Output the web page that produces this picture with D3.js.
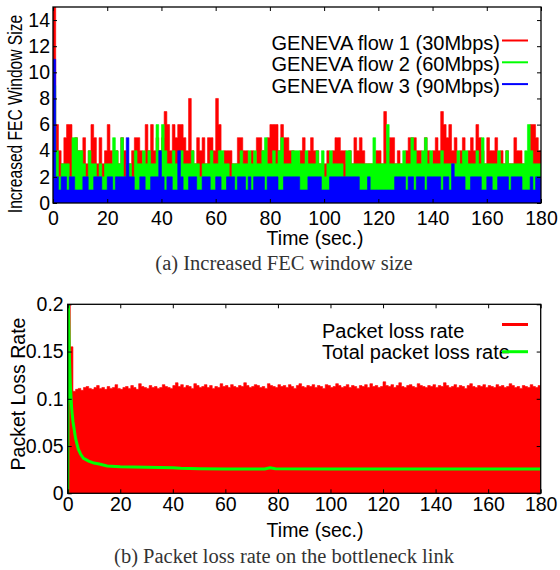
<!DOCTYPE html>
<html lang="en">
<head>
<meta charset="UTF-8">
<title>GENEVA - FEC window size and packet loss rate</title>
<script src="https://d3js.org/d3.v7.min.js"></script>
<style>
    body { margin: 0; background: #fff; }
    svg { display: block; font-family: "Liberation Sans", Arial, sans-serif; }
    .tick text { font-size: 19.5px; fill: #000; }
    .label { font-size: 19.5px; fill: #000; }
    .legend { font-size: 20px; fill: #000; }
    .caption { font-family: "Liberation Serif", "Times New Roman", serif; font-size: 20.5px; fill: #333; }
</style>
</head>
<body>
<div id="chart"></div>
<script>
    /*------------------------- data -------------------------*/
    // one sample per second, t = 0 .. 180
    const timeTicks = [0, 20, 40, 60, 80, 100, 120, 140, 160, 180];
    const fecTicks = [0, 2, 4, 6, 8, 10, 12, 14];
    const lossTicks = [0, 0.05, 0.1, 0.15, 0.2];
    const fecNames = ["GENEVA flow 1 (30Mbps)", "GENEVA flow 2 (60Mbps)", "GENEVA flow 3 (90Mbps)"];
    const lossNames = ["Packet loss rate", "Total packet loss rate"];

    // increased FEC window size, flow 1 (30Mbps)
    const flow1 = [
        15,6,4,3,5,6,6,3,5,4,4,5,3,4,6,5,3,5,3,4,6,4,3,4,3,5,4,3,3,4,5,5,4,3,6,4,6,
        4,5,4,5,7,6,4,6,5,6,6,5,4,8,4,3,5,4,5,3,5,5,4,8,6,3,4,4,4,3,3,5,5,4,4,3,
        4,3,5,5,4,3,5,6,6,6,4,6,5,5,4,4,3,3,4,5,3,4,5,4,4,3,3,3,4,3,4,5,5,4,4,3,
        4,3,5,4,5,4,3,3,3,3,4,4,3,7,4,5,5,3,4,3,3,4,5,5,5,4,4,3,5,4,3,4,5,4,7,6,
        5,6,4,5,3,4,5,3,4,5,4,6,5,4,3,5,4,4,5,3,4,3,4,3,3,5,4,4,3,3,3,6,6,5,4,4
    ];
    // flow 2 (60Mbps)
    const flow2 = [
        9,4,2,3,3,3,2,5,5,4,4,3,2,4,3,3,2,3,2,3,3,3,5,4,3,5,2,3,3,2,4,3,3,4,3,4,3,
        3,6,4,6,4,3,3,4,3,3,4,3,3,3,4,3,3,2,3,3,3,4,3,3,4,4,3,3,2,3,3,3,4,3,3,4,
        3,4,3,3,4,5,3,3,4,3,4,5,3,3,3,4,4,4,3,3,4,3,3,3,4,3,4,2,3,4,3,3,3,3,2,4,
        4,3,3,3,3,3,3,3,3,5,3,3,3,3,6,3,3,3,3,3,4,3,3,5,4,3,3,4,5,3,4,3,3,3,4,3,
        3,3,3,3,4,3,4,4,3,3,3,4,3,5,3,3,3,3,3,4,3,3,4,3,3,3,3,3,3,4,6,4,3,3,3,3
    ];
    // flow 3 (90Mbps)
    const flow3 = [
        11,2,1,2,2,1,2,2,1,1,1,2,2,1,1,2,2,2,1,1,2,2,1,2,2,2,2,5,2,2,1,1,2,2,1,1,2,
        2,2,4,2,1,2,2,1,1,4,2,1,1,2,2,2,1,1,2,2,2,1,1,2,2,1,1,2,2,2,1,2,2,2,1,2,
        1,2,2,2,2,1,2,2,2,2,1,1,2,2,2,2,2,2,1,1,1,2,2,2,2,2,1,1,1,2,2,2,2,2,2,2,
        2,2,2,2,1,1,1,2,1,1,1,1,1,1,1,1,1,2,2,2,2,1,2,2,1,2,2,2,1,2,2,2,2,2,1,2,
        2,1,3,2,2,2,2,1,1,2,2,2,2,1,1,2,2,1,1,2,2,2,2,1,2,2,2,2,1,1,1,2,1,2,2,2
    ];

    // packet loss rate on the bottleneck link (x 1/1000)
    const lossRate = [
        200,155,
        108,110,111,109,112,113,111,110,112,114,111,112,110,113,111,112,115,111,110,112,
        113,111,114,112,110,116,113,112,111,114,112,113,111,112,115,113,112,111,114,117,
        113,115,112,114,113,111,116,114,112,113,115,112,114,111,113,112,116,113,114,112,
        115,113,112,114,113,117,114,112,113,115,114,112,113,111,116,114,113,112,115,113,
        114,112,115,113,111,114,116,113,112,114,113,115,112,114,113,111,115,114,112,113,
        116,114,112,113,115,112,114,113,111,114,113,115,112,116,113,114,112,113,118,114,
        113,115,112,114,117,113,112,114,115,113,112,116,114,113,112,114,113,115,112,114,
        113,117,114,112,113,115,112,114,113,111,114,116,113,112,114,113,115,112,114,113,
        112,115,113,114,112,113,116,114,112,113,111,114,113,112,115,113,112,114,113
    ];
    // total packet loss rate, [time, rate]
    const totalLoss = [
        [0, 0], [0.3, 0.2], [0.6, 0.15], [1, 0.115], [1.5, 0.09], [2, 0.076], [3, 0.058],
        [4, 0.047], [5, 0.041], [6, 0.037], [8, 0.034], [10, 0.032], [12, 0.031], [15, 0.029],
        [20, 0.028], [30, 0.0275], [40, 0.027], [43, 0.0265], [50, 0.026], [60, 0.0258],
        [75, 0.0258], [77, 0.027], [79, 0.026], [100, 0.0256], [140, 0.0256], [180, 0.0256]
    ];

    const colors = ["#ff0000", "#00ff00", "#0000ff"];

    /*------------------------- svg --------------------------*/
    const svg = d3.select("#chart").append("svg")
        .attr("width", 560)
        .attr("height", 570);

    // draws ticks on all four sides (pointing inward) + frame
    function drawFrame(x, y, yTicks, yFormat, xPad, yPad) {
        const [x0, x1] = x.range();
        const [yb, yt] = y.range();

        svg.append("g")
            .attr("transform", `translate(0,${yb})`)
            .call(d3.axisBottom(x).tickValues(timeTicks).tickSizeInner(-4).tickSizeOuter(0).tickPadding(xPad))
            .call(g => g.select(".domain").remove());
        svg.append("g")
            .attr("transform", `translate(0,${yt})`)
            .call(d3.axisTop(x).tickValues(timeTicks).tickSizeInner(-4).tickSizeOuter(0).tickFormat(""))
            .call(g => g.select(".domain").remove());
        svg.append("g")
            .attr("transform", `translate(${x0},0)`)
            .call(d3.axisLeft(y).tickValues(yTicks).tickFormat(yFormat).tickSizeInner(-4).tickSizeOuter(0).tickPadding(yPad))
            .call(g => g.select(".domain").remove());
        svg.append("g")
            .attr("transform", `translate(${x1},0)`)
            .call(d3.axisRight(y).tickValues(yTicks).tickSizeInner(-4).tickSizeOuter(0).tickFormat(""))
            .call(g => g.select(".domain").remove());

        svg.selectAll(".tick line").attr("stroke", "#000");

        svg.append("rect")
            .attr("x", x0).attr("y", yt)
            .attr("width", x1 - x0).attr("height", yb - yt)
            .attr("fill", "none")
            .attr("stroke", "#000")
            .attr("stroke-width", 1.3);
    }

    /*---------------- (a) increased FEC window ---------------*/
    const xA = d3.scaleLinear().domain([0, 180]).range([53, 541]);
    const yA = d3.scaleLinear().domain([0, 15]).range([203, 7]);

    svg.append("clipPath").attr("id", "clipA")
        .append("rect").attr("x", 53).attr("y", 7).attr("width", 488).attr("height", 196);

    const stepArea = d3.area()
        .x((d, i) => xA(i))
        .y0(yA(0))
        .y1(d => yA(d))
        .curve(d3.curveStepAfter);

    const gA = svg.append("g").attr("clip-path", "url(#clipA)");
    [flow1, flow2, flow3].forEach((s, i) => {
        gA.append("path")
            .attr("d", stepArea(s))
            .attr("fill", colors[i])
            .attr("stroke", colors[i])
            .attr("stroke-width", 0.6);
    });

    drawFrame(xA, yA, fecTicks, d3.format("d"), 8, 3);

    // legend
    fecNames.forEach((name, i) => {
        svg.append("text")
            .attr("class", "legend")
            .attr("x", 500)
            .attr("y", 49.5 + i * 21.7)
            .attr("text-anchor", "end")
            .text(name);
        svg.append("line")
            .attr("x1", 502).attr("x2", 528)
            .attr("y1", 40.5 + i * 21.8).attr("y2", 40.5 + i * 21.8)
            .attr("stroke", colors[i])
            .attr("stroke-width", 2);
    });

    svg.append("text").attr("class", "label")
        .attr("x", 315).attr("y", 245)
        .attr("text-anchor", "middle")
        .text("Time (sec.)");
    // the original title is squeezed along its length
    svg.append("text").attr("class", "label")
        .attr("transform", "translate(22,114) rotate(-90) scale(0.8,1)")
        .attr("text-anchor", "middle")
        .text("Increased FEC Window Size");
    svg.append("text").attr("class", "caption")
        .attr("x", 284).attr("y", 270)
        .attr("text-anchor", "middle")
        .text("(a) Increased FEC window size");

    /*---------------- (b) packet loss rate -------------------*/
    const xB = d3.scaleLinear().domain([0, 180]).range([67.7, 540.7]);
    const yB = d3.scaleLinear().domain([0, 0.2]).range([493.3, 304.3]);

    svg.append("clipPath").attr("id", "clipB")
        .append("rect").attr("x", 67.7).attr("y", 304.3).attr("width", 473).attr("height", 189);

    const gB = svg.append("g").attr("clip-path", "url(#clipB)");
    gB.append("path")
        .attr("d", d3.area()
            .x((d, i) => xB(i))
            .y0(yB(0))
            .y1(d => yB(d / 1000))
            .curve(d3.curveStepAfter)(lossRate))
        .attr("fill", colors[0])
        .attr("stroke", colors[0])
        .attr("stroke-width", 0.6);
    gB.append("path")
        .attr("d", d3.line()
            .x(d => xB(d[0]))
            .y(d => yB(d[1]))(totalLoss))
        .attr("fill", "none")
        .attr("stroke", colors[1])
        .attr("stroke-width", 3);

    drawFrame(xB, yB, lossTicks, d => d === 0 ? "0" : String(d), 4, 4);

    lossNames.forEach((name, i) => {
        svg.append("text")
            .attr("class", "legend")
            .attr("x", 322)
            .attr("y", 337.5 + i * 21.5)
            .text(name);
    });
    svg.append("line")
        .attr("x1", 502).attr("x2", 528).attr("y1", 324.5).attr("y2", 324.5)
        .attr("stroke", colors[0]).attr("stroke-width", 3);
    svg.append("line")
        .attr("x1", 502).attr("x2", 528).attr("y1", 351.7).attr("y2", 351.7)
        .attr("stroke", colors[1]).attr("stroke-width", 3);

    svg.append("text").attr("class", "label")
        .attr("x", 315).attr("y", 537)
        .attr("text-anchor", "middle")
        .text("Time (sec.)");
    svg.append("text").attr("class", "label")
        .attr("transform", "translate(25,394) rotate(-90)")
        .attr("text-anchor", "middle")
        .text("Packet Loss Rate");
    svg.append("text").attr("class", "caption")
        .attr("x", 284).attr("y", 563)
        .attr("text-anchor", "middle")
        .text("(b) Packet loss rate on the bottleneck link");
</script>
</body>
</html>
